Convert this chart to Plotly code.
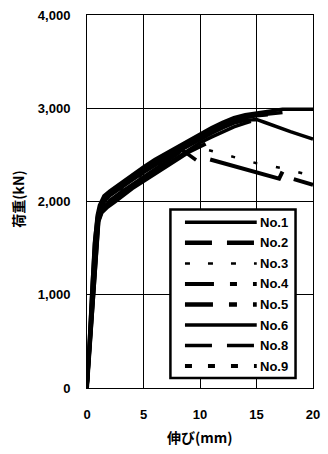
import plotly.graph_objects as go

# ---------------- data ----------------
names = ["No.1", "No.2", "No.3", "No.4", "No.5", "No.6", "No.8", "No.9"]

x_no1 = [0, 0.2, 0.45, 0.7, 0.9, 1.1, 1.5, 2, 3, 4, 5, 6, 7, 8, 9, 10, 11, 12, 13, 14, 15, 16, 17, 17.3, 18, 19, 20]
y_no1 = [0, 550, 1100, 1600, 1850, 1960, 2060, 2110, 2200, 2280, 2370, 2450, 2520, 2590, 2660, 2730, 2790, 2850, 2900, 2930, 2950, 2970, 2985, 2990, 2990, 2990, 2990]

x_no2 = [0, 0.25, 0.5, 0.75, 0.95, 1.2, 1.6, 2, 3, 4, 5, 6, 7, 8, 9, 10, 11, 12, 13, 14, 15, 15.7, 17, 18, 19, 20]
y_no2 = [0, 500, 1000, 1500, 1800, 1930, 2010, 2060, 2150, 2230, 2310, 2390, 2460, 2530, 2600, 2670, 2730, 2790, 2840, 2870, 2880, 2850, 2790, 2750, 2710, 2670]

x_no3 = [0, 0.2, 0.45, 0.7, 0.95, 1.2, 1.6, 2, 3, 4, 5, 6, 7, 8, 9, 10, 10.4, None, 10.8, 13, 15, 17.1, 18.8, 20]
y_no3 = [0, 480, 1000, 1500, 1820, 1920, 1990, 2040, 2130, 2210, 2300, 2380, 2450, 2530, 2600, 2670, 2700, None, 2550, 2480, 2410, 2360, 2310, 2275]

x_no4 = [0, 0.3, 0.55, 0.8, 1.0, 1.3, 1.8, 2.5, 3, 4, 5, 6, 7, 8, 9, 10, 10.5, None, 10.9, 13, 15, 17.0, 17.3, None, 18.3, 20]
y_no4 = [0, 520, 1000, 1480, 1780, 1880, 1940, 2000, 2050, 2140, 2220, 2300, 2380, 2450, 2530, 2590, 2620, None, 2450, 2380, 2310, 2245, 2320, None, 2240, 2180]

x_no5 = [0, 0.25, 0.5, 0.75, 1.0, 1.3, 1.7, 2, 3, 4, 5, 6, 7, 8, 8.4, 8.9, 9.3, 9.65]
y_no5 = [0, 470, 960, 1450, 1800, 1900, 1970, 2010, 2100, 2180, 2260, 2340, 2420, 2510, 2555, 2510, 2470, 2445]

x_no6 = [0, 0.2, 0.4, 0.65, 0.9, 1.15, 1.5, 2, 3, 4, 5, 6, 7, 8, 9, 10, 11, 12, 13, 14, 15, 16, 17, 17.3]
y_no6 = [0, 520, 1050, 1550, 1820, 1940, 2030, 2080, 2170, 2250, 2330, 2410, 2480, 2550, 2620, 2690, 2750, 2810, 2860, 2900, 2925, 2940, 2950, 2955]

x_no8 = [0, 0.25, 0.5, 0.7, 0.95, 1.2, 1.6, 2, 3, 4, 5, 6, 7, 8, 9, 10, 11, 12, 13, 14, 15, 16]
y_no8 = [0, 560, 1080, 1520, 1830, 1950, 2040, 2090, 2180, 2260, 2350, 2430, 2500, 2570, 2640, 2710, 2770, 2820, 2870, 2900, 2920, 2930]

x_no9 = [0, 0.3, 0.55, 0.8, 1.05, 1.3, 1.7, 2, 3, 4, 5, 6, 7, 8, 9, 10, 11, 12, 13, 14, 14.5]
y_no9 = [0, 500, 980, 1460, 1800, 1890, 1950, 1990, 2080, 2160, 2240, 2320, 2400, 2480, 2560, 2630, 2690, 2750, 2800, 2840, 2860]

xs = [x_no1, x_no2, x_no3, x_no4, x_no5, x_no6, x_no8, x_no9]
ys = [y_no1, y_no2, y_no3, y_no4, y_no5, y_no6, y_no8, y_no9]

x_ticks = [0, 5, 10, 15, 20]
y_ticks = [0, 1000, 2000, 3000, 4000]

# styles
plot_dash = ["solid", "solid", "4px,19px", "solid", "solid", "solid", "solid", "solid"]
plot_width = [3.5, 3.5, 2.5, 4, 3.5, 3.5, 3.5, 3.5]
legend_dash = ["solid", "27px,15px", "5px,18px", "29px,16px,7px,16px",
               "28px,16px,8px,16px", "solid", "27px,15px", "7px,16px"]
legend_width = [3.5, 4.5, 2.5, 4, 4.5, 3.5, 3.5, 4]

# ---------------- figure ----------------
W, H = 328, 454
L, R, T, B = 87, 8, 12, 66
pw, ph = W - L - R, H - T - B


def px(xp):
    return (xp - L) / pw


def py(yp):
    return (H - B - yp) / ph


fig = go.Figure()
for i, n in enumerate(names):
    fig.add_trace(go.Scatter(
        x=xs[i], y=ys[i], mode="lines", name=n, showlegend=False,
        line=dict(color="black", width=plot_width[i], dash=plot_dash[i]),
        connectgaps=False,
    ))

tick_font = dict(family="Liberation Sans", size=13, color="black", weight="bold")

fig.update_xaxes(
    range=[0, 20], tickvals=x_ticks, showgrid=True, gridcolor="black", gridwidth=1,
    zeroline=False, showline=True, linecolor="black", linewidth=1, mirror=True,
    tickfont=tick_font, ticks="", ticklabelstandoff=14,
)
fig.update_yaxes(
    range=[0, 4000], tickvals=y_ticks, tickformat=",d", showgrid=True,
    gridcolor="black", gridwidth=1, zeroline=False, showline=True,
    linecolor="black", linewidth=1, mirror=True, tickfont=tick_font,
    ticks="", ticklabelstandoff=13,
)

shapes = []
annotations = []

# legend box
shapes.append(dict(type="rect", xref="paper", yref="paper",
                   x0=px(173), x1=px(302), y0=py(378), y1=py(208),
                   line=dict(color="black", width=2.5), fillcolor="white", layer="above"))

row0, step = 221, 20.7
for i, n in enumerate(names):
    yy = row0 + step * i
    shapes.append(dict(type="line", xref="paper", yref="paper",
                       x0=px(188), x1=px(262), y0=py(yy), y1=py(yy),
                       line=dict(color="black", width=legend_width[i], dash=legend_dash[i]),
                       layer="above"))
    annotations.append(dict(xref="paper", yref="paper", x=px(263), y=py(yy),
                            text=n, showarrow=False, xanchor="left", yanchor="middle",
                            font=dict(family="Liberation Sans", size=13, color="black",
                                      weight="bold")))

# axis titles
annotations.append(dict(xref="paper", yref="paper", x=px(203), y=py(437),
                        text="伸び(mm)", showarrow=False, xanchor="center", yanchor="middle",
                        font=dict(family="Noto Sans CJK JP", size=14, color="black",
                                  weight="bold")))
annotations.append(dict(xref="paper", yref="paper", x=px(15), y=py(197),
                        text="荷重(kN)", showarrow=False, textangle=-90,
                        xanchor="center", yanchor="middle",
                        font=dict(family="Noto Sans CJK JP", size=14, color="black",
                                  weight="bold")))

fig.update_layout(
    width=W, height=H, margin=dict(l=L, r=R, t=T, b=B),
    paper_bgcolor="white", plot_bgcolor="white",
    shapes=shapes, annotations=annotations, showlegend=False,
)

fig.write_html(
    "out.html",
    config={"displayModeBar": False},
    post_script="document.body.style.margin='0';document.body.style.padding='0';"
                "document.body.style.overflow='hidden';"
                "document.documentElement.style.overflow='hidden';",
)
